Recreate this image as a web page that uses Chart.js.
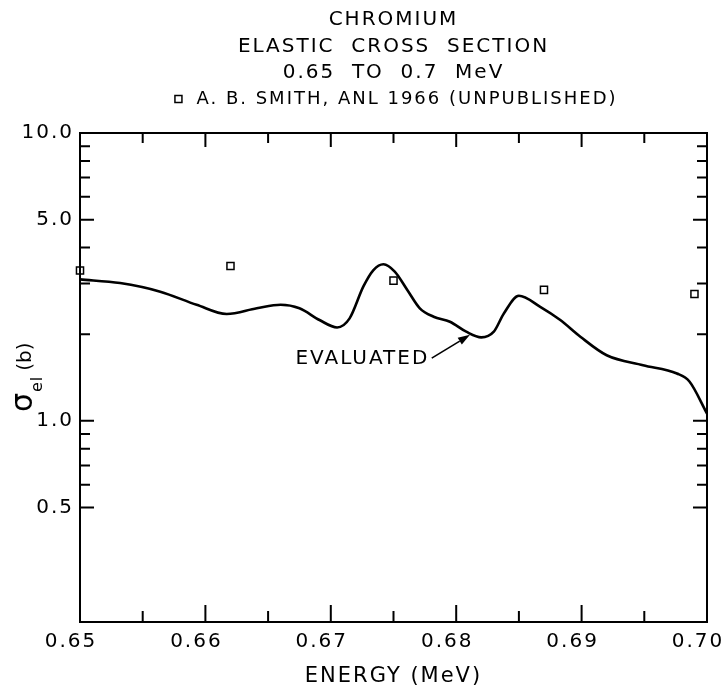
<!DOCTYPE html>
<html><head><meta charset="utf-8">
<script src="https://cdn.jsdelivr.net/npm/chart.js@4.4.1/dist/chart.umd.min.js"></script>
<style>html,body{margin:0;padding:0;background:#fff;} canvas{display:block;}</style>
</head><body>
<canvas id="c" width="723" height="691"></canvas>
<script>
// ---- text ----
const titleLines = ['CHROMIUM', 'ELASTIC  CROSS  SECTION', '0.65  TO  0.7  MeV'];
const smithLabel = 'A. B. SMITH, ANL 1966 (UNPUBLISHED)';
const evalLabel = 'EVALUATED';
const xAxisTitle = 'ENERGY (MeV)';
const yAxisTitleParts = ['\u03C3', 'el', '(b)'];

// ---- data ----
const energyEval = [0.6500, 0.6532, 0.6564, 0.6593, 0.6617, 0.6641, 0.6660, 0.6675, 0.6691, 0.6705,
                    0.6715, 0.6726, 0.6734, 0.6742, 0.6751, 0.6761, 0.6771, 0.6782, 0.6795, 0.6808,
                    0.6820, 0.6830, 0.6838, 0.6850, 0.6867, 0.6883, 0.6899, 0.6920, 0.6949, 0.6976,
                    0.6986, 0.7000];
const sigmaEval  = [3.10, 3.01, 2.81, 2.53, 2.35, 2.46, 2.53, 2.46, 2.24, 2.11,
                    2.27, 2.93, 3.34, 3.50, 3.30, 2.85, 2.46, 2.30, 2.21, 2.04,
                    1.95, 2.04, 2.36, 2.72, 2.49, 2.24, 1.96, 1.69, 1.56, 1.46,
                    1.37, 1.06];
const energySmith = [0.6500, 0.6620, 0.6750, 0.6870, 0.6990];
const sigmaSmith  = [3.33, 3.45, 3.07, 2.85, 2.76];

// ---- ticks ----
const xMajorTicks = [0.65, 0.66, 0.67, 0.68, 0.69, 0.70];
const xTickLabels = ['0.65', '0.66', '0.67', '0.68', '0.69', '0.70'];
const xMinorTicks = [0.655, 0.665, 0.675, 0.685, 0.695];
const yMajorTicks = [0.5, 1, 5, 10];
const yTickLabels = ['0.5', '1.0', '5.0', '10.0'];
const yMinorTicks = [0.6, 0.7, 0.8, 0.9, 2, 3, 4, 6, 7, 8, 9];

// ---- annotation (data coordinates) ----
const annotTextAt = {x: 0.6777, y: 1.662};
const arrowFrom = {x: 0.67805, y: 1.651};
const arrowTo = {x: 0.6811, y: 1.989};

const FONT = "'DejaVu Sans', sans-serif";

const spacingPlugin = {
  id: 'spacing',
  beforeLayout(c) { c.ctx.letterSpacing = '2px'; },
  beforeDraw(c) { c.ctx.letterSpacing = '2px'; }
};

const framePlugin = {
  id: 'frame',
  afterDatasetsDraw(c) {
    const {ctx, chartArea: a, scales: {x, y}} = c;
    ctx.save();
    ctx.strokeStyle = '#000';
    ctx.lineWidth = 2;
    ctx.strokeRect(a.left, a.top, a.right - a.left, a.bottom - a.top);
    ctx.beginPath();
    const xt = (v, lenB, lenT) => {
      const p = x.getPixelForValue(v);
      ctx.moveTo(p, a.bottom); ctx.lineTo(p, a.bottom - lenB);
      ctx.moveTo(p, a.top); ctx.lineTo(p, a.top + lenT);
    };
    const yt = (v, len) => {
      const p = y.getPixelForValue(v);
      ctx.moveTo(a.left, p); ctx.lineTo(a.left + len, p);
      ctx.moveTo(a.right, p); ctx.lineTo(a.right - len, p);
    };
    xMajorTicks.forEach(v => xt(v, 17, 14));
    xMinorTicks.forEach(v => xt(v, 11, 10));
    yMajorTicks.forEach(v => yt(v, 14));
    yMinorTicks.forEach(v => yt(v, 10));
    ctx.stroke();
    ctx.restore();
  }
};

const annotPlugin = {
  id: 'annot',
  afterDatasetsDraw(c) {
    const {ctx, scales: {x, y}} = c;
    ctx.save();
    ctx.fillStyle = '#000';
    ctx.strokeStyle = '#000';
    ctx.letterSpacing = '2px';
    ctx.font = `20px ${FONT}`;
    ctx.textAlign = 'right';
    ctx.textBaseline = 'middle';
    ctx.fillText(evalLabel, x.getPixelForValue(annotTextAt.x) + 2, y.getPixelForValue(annotTextAt.y) + 1);
    const x0 = x.getPixelForValue(arrowFrom.x), y0 = y.getPixelForValue(arrowFrom.y);
    const x1 = x.getPixelForValue(arrowTo.x), y1 = y.getPixelForValue(arrowTo.y);
    const ang = Math.atan2(y1 - y0, x1 - x0);
    const L = 12, W = 4;
    const bx = x1 - L * Math.cos(ang), by = y1 - L * Math.sin(ang);
    ctx.lineWidth = 1.6;
    ctx.beginPath(); ctx.moveTo(x0, y0); ctx.lineTo(bx, by); ctx.stroke();
    ctx.beginPath();
    ctx.moveTo(x1, y1);
    ctx.lineTo(bx + W * Math.sin(ang), by - W * Math.cos(ang));
    ctx.lineTo(bx - W * Math.sin(ang), by + W * Math.cos(ang));
    ctx.closePath(); ctx.fill();
    ctx.restore();
  }
};

const yTitlePlugin = {
  id: 'ytitle',
  afterDraw(c) {
    const ctx = c.ctx;
    ctx.save();
    ctx.translate(32, 412);
    ctx.rotate(-Math.PI / 2);
    ctx.fillStyle = '#000';
    ctx.textAlign = 'left';
    ctx.textBaseline = 'alphabetic';
    ctx.letterSpacing = '0px';
    ctx.font = `30px ${FONT}`;
    ctx.fillText(yAxisTitleParts[0], 0, 0);
    let w = ctx.measureText(yAxisTitleParts[0]).width;
    ctx.font = `16px ${FONT}`;
    ctx.letterSpacing = '1px';
    ctx.fillText(yAxisTitleParts[1], w + 1, 10);
    w += 1 + ctx.measureText(yAxisTitleParts[1]).width;
    ctx.font = `20px ${FONT}`;
    ctx.letterSpacing = '0px';
    ctx.fillText(yAxisTitleParts[2], w + 5, -1);
    ctx.restore();
  }
};

const noPad = s => { s.paddingLeft = 0; s.paddingRight = 0; s.paddingTop = 0; s.paddingBottom = 0; };

new Chart(document.getElementById('c'), {
  type: 'scatter',
  data: {
    datasets: [
      {
        label: smithLabel,
        data: energySmith.map((e, i) => ({x: e, y: sigmaSmith[i]})),
        pointStyle: 'rect',
        pointRadius: 5,
        pointHoverRadius: 5,
        borderColor: '#000',
        backgroundColor: '#fff',
        borderWidth: 1.5,
        pointBorderWidth: 1.5,
        showLine: false,
        clip: false
      },
      {
        label: evalLabel,
        data: energyEval.map((e, i) => ({x: e, y: sigmaEval[i]})),
        showLine: true,
        pointRadius: 0,
        pointHoverRadius: 0,
        borderColor: '#000',
        backgroundColor: '#000',
        borderWidth: 2.6,
        cubicInterpolationMode: 'monotone',
        fill: false
      }
    ]
  },
  options: {
    responsive: false,
    animation: false,
    devicePixelRatio: 1,
    events: [],
    layout: {padding: {left: 0, right: 16, top: 0, bottom: 0}, autoPadding: false},
    plugins: {
      title: {
        display: true, fullSize: false, text: titleLines, color: '#000',
        font: {family: FONT, size: 20, weight: 'normal', lineHeight: 1.325},
        padding: {top: 7, bottom: 0}
      },
      legend: {
        display: true, fullSize: false, position: 'top',
        labels: {
          filter: item => item.datasetIndex === 0,
          usePointStyle: true, boxHeight: 7, color: '#000',
          font: {family: FONT, size: 18}, padding: 3.5
        }
      },
      tooltip: {enabled: false}
    },
    scales: {
      x: {
        type: 'linear', position: 'bottom', min: 0.65, max: 0.70,
        grid: {display: false, drawTicks: false}, border: {display: false},
        afterBuildTicks: s => { s.ticks = xMajorTicks.map(v => ({value: v})); },
        afterFit: s => { s.height = 69; noPad(s); },
        ticks: {
          autoSkip: false, maxRotation: 0, minRotation: 0, labelOffset: -9, padding: 8,
          color: '#000', font: {family: FONT, size: 20},
          callback: (v, i) => xTickLabels[i]
        },
        title: {
          display: true, text: xAxisTitle, color: '#000',
          font: {family: FONT, size: 21}, padding: {top: 0, bottom: 1.4}
        }
      },
      xTop: {
        axis: 'x', type: 'linear', position: 'top', min: 0.65, max: 0.70,
        grid: {display: false, drawTicks: false}, border: {display: false},
        ticks: {display: false},
        afterFit: s => { s.height = 15; noPad(s); }
      },
      y: {
        type: 'logarithmic', position: 'left', min: 0.2, max: 10,
        grid: {display: false, drawTicks: false}, border: {display: false},
        afterBuildTicks: s => { s.ticks = yMajorTicks.map(v => ({value: v})); },
        afterFit: s => { s.width = 80; noPad(s); },
        ticks: {
          autoSkip: false, padding: 6, color: '#000', font: {family: FONT, size: 20},
          callback: (v, i) => yTickLabels[i]
        }
      }
    }
  },
  plugins: [spacingPlugin, framePlugin, annotPlugin, yTitlePlugin]
});
</script>
</body></html>
